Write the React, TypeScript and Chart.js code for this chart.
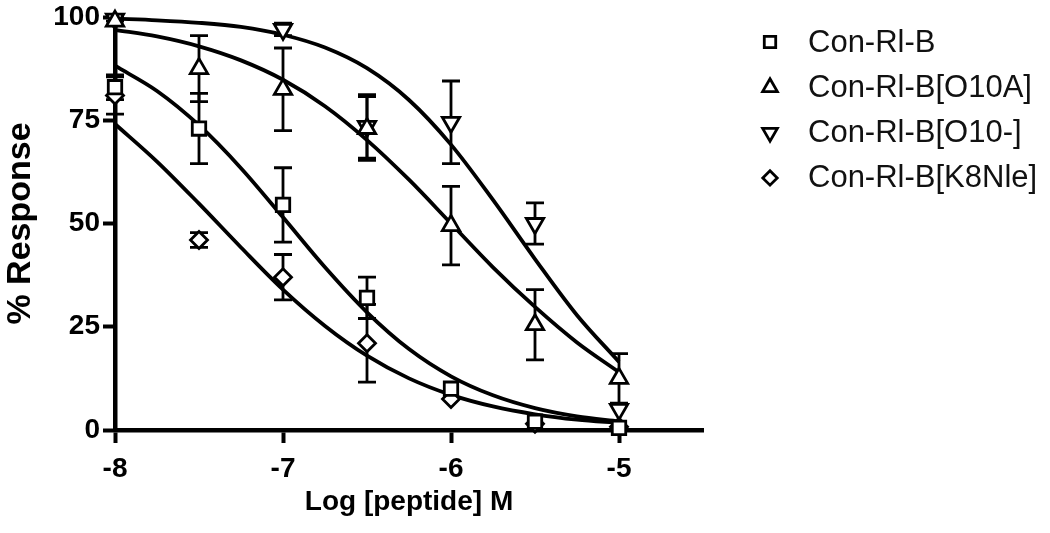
import React, { useEffect, useRef } from 'react';
import { Chart, registerables } from 'chart.js';
import { drawPoint } from 'chart.js/helpers';

Chart.register(...registerables);

// ---- data ----
const doses = [-8, -7.5, -7, -6.5, -6, -5.5, -5];

const seriesLabels = ['Con-Rl-B', 'Con-Rl-B[O10A]', 'Con-Rl-B[O10-]', 'Con-Rl-B[K8Nle]'];

const conRlB = [83, 73, 54.5, 32, 10, 2, 0.5];
const conRlBErr = [3, 8.5, 9, 5, 0, 0, 0];

const o10a = [99, 87.5, 82.5, 73, 49.5, 25.5, 12.5];
const o10aErr = [1, 8, 10, 7.7, 9.5, 8.5, 6];

const o10del = [99.5, null, 97, 73.5, 74.5, 50, 5];
const o10delErr = [0.5, 0, 1.5, 7.7, 10, 5, 0];

const k8nle = [81, 46, 37, 21, 7.5, 1.5, 0.8];
const k8nleErr = [4.5, 1.8, 5.5, 9.4, 0, 0, 0];

const curveX = [-8, -7.75, -7.5, -7.25, -7, -6.75, -6.5, -6.25, -6, -5.75, -5.5, -5.25, -5];
const conRlBFit = [88.2, 82.1, 73.8, 63.4, 51.5, 39.4, 28.5, 19.6, 13.0, 8.4, 5.3, 3.3, 2.1];
const o10aFit = [96.9, 95.3, 92.9, 89.5, 84.8, 78.4, 70.2, 60.6, 50.0, 39.4, 29.8, 21.2, 14.0];
const o10delFit = [99.6, 99.2, 98.6, 97.6, 95.7, 92.6, 87.6, 79.9, 69.1, 55.7, 41.4, 27.8, 16.5];
const k8nleFit = [74.1, 65.0, 54.8, 44.2, 34.0, 25.2, 18.0, 12.5, 8.5, 5.7, 3.8, 2.5, 1.7];

const xTicks = [-8, -7, -6, -5];
const yTicks = [0, 25, 50, 75, 100];

// ---- styles ----
const FONT = "'Liberation Sans', Arial, Helvetica, sans-serif";
const BLACK = '#000';

const pointStyles = [
  { style: 'rect', radius: 9.5, rotation: 0 },
  { style: 'triangle', radius: 10, rotation: 0 },
  { style: 'triangle', radius: 10, rotation: 180 },
  { style: 'rectRot', radius: 8.5, rotation: 0 },
];

const errorBarPlugin = {
  id: 'errorBars',
  beforeDatasetsDraw(chart: any) {
    const { ctx } = chart;
    const xs = chart.scales.x;
    const ys = chart.scales.y;
    ctx.save();
    ctx.strokeStyle = BLACK;
    ctx.lineWidth = 2.8;
    chart.data.datasets.forEach((ds: any) => {
      if (!ds.errors) return;
      ds.data.forEach((p: any, i: number) => {
        const e = ds.errors[i];
        if (p.y == null || !e) return;
        const px = xs.getPixelForValue(p.x);
        const top = ys.getPixelForValue(p.y + e);
        const bot = ys.getPixelForValue(p.y - e);
        const cap = 9;
        ctx.beginPath();
        ctx.moveTo(px, top);
        ctx.lineTo(px, bot);
        ctx.moveTo(px - cap, top);
        ctx.lineTo(px + cap, top);
        ctx.moveTo(px - cap, bot);
        ctx.lineTo(px + cap, bot);
        ctx.stroke();
      });
    });
    ctx.restore();
  },
};

const sideLegendPlugin = {
  id: 'sideLegend',
  afterDraw(chart: any) {
    const { ctx } = chart;
    const items = chart.data.datasets.filter((d: any) => d.errors);
    const markerX = chart.chartArea.right + 67;
    const textX = chart.chartArea.right + 105;
    const startY = 42;
    const step = 45.3;
    ctx.save();
    items.forEach((ds: any, i: number) => {
      const y = startY + i * step;
      ctx.strokeStyle = BLACK;
      ctx.fillStyle = '#fff';
      ctx.lineWidth = 2.8;
      drawPoint(ctx, { pointStyle: ds.pointStyle, rotation: ds.pointRotation, radius: ds.pointRadius * 0.85, borderWidth: 2.8 }, markerX, y);
      ctx.fillStyle = '#111';
      ctx.font = `31px ${FONT}`;
      ctx.textAlign = 'left';
      ctx.textBaseline = 'middle';
      ctx.fillText(ds.label, textX, y + 1);
    });
    ctx.restore();
  },
};

export default function App() {
  const canvasRef = useRef<HTMLCanvasElement | null>(null);

  useEffect(() => {
    if (!canvasRef.current) return;
    const means = [conRlB, o10a, o10del, k8nle];
    const errs = [conRlBErr, o10aErr, o10delErr, k8nleErr];
    const fits = [conRlBFit, o10aFit, o10delFit, k8nleFit];

    const pointSets = means.map((vals, s) => ({
      type: 'line' as const,
      label: seriesLabels[s],
      data: doses.map((x, i) => ({ x, y: vals[i] })),
      errors: errs[s],
      showLine: false,
      pointStyle: pointStyles[s].style,
      pointRotation: pointStyles[s].rotation,
      pointRadius: pointStyles[s].radius,
      pointBorderWidth: 2.8,
      pointBorderColor: BLACK,
      pointBackgroundColor: '#fff',
      borderColor: BLACK,
      backgroundColor: '#fff',
      clip: false,
    }));

    const curveSets = fits.map((vals, s) => ({
      type: 'line' as const,
      label: seriesLabels[s] + ' fit',
      data: curveX.map((x, i) => ({ x, y: vals[i] })),
      borderColor: BLACK,
      borderWidth: 3.8,
      pointRadius: 0,
      cubicInterpolationMode: 'monotone' as const,
      fill: false,
      clip: false,
    }));

    const tickFont = { family: FONT, size: 28, weight: 'bold' as const, lineHeight: 1 };

    const chart = new Chart(canvasRef.current, {
      type: 'line',
      data: { datasets: [...pointSets, ...curveSets] as any },
      plugins: [errorBarPlugin, sideLegendPlugin],
      options: {
        animation: false,
        responsive: true,
        maintainAspectRatio: false,
        layout: { padding: { top: 15, right: 347, left: 0, bottom: 0 } },
        plugins: {
          legend: { display: false },
          tooltip: { enabled: false },
        },
        scales: {
          x: {
            type: 'linear',
            min: -8,
            max: -4.5,
            afterBuildTicks: (s: any) => {
              s.ticks = xTicks.map((v) => ({ value: v }));
            },
            afterFit: (s: any) => {
              s.height = 103;
            },
            grid: {
              drawOnChartArea: false,
              drawTicks: true,
              tickLength: 13,
              tickWidth: 4,
              tickColor: BLACK,
            },
            border: { display: true, color: BLACK, width: 4.5 },
            ticks: {
              color: BLACK,
              font: tickFont,
              padding: 12,
              maxRotation: 0,
              autoSkip: false,
            },
            title: {
              display: true,
              text: 'Log [peptide] M',
              color: BLACK,
              font: { family: FONT, size: 28, weight: 'bold' },
              padding: { top: 0, bottom: 14 },
            },
          },
          y: {
            type: 'linear',
            min: 0,
            max: 100,
            afterBuildTicks: (s: any) => {
              s.ticks = yTicks.map((v) => ({ value: v }));
            },
            afterFit: (s: any) => {
              s.width = 115;
            },
            grid: {
              drawOnChartArea: false,
              drawTicks: true,
              tickLength: 12,
              tickWidth: 4,
              tickColor: BLACK,
            },
            border: { display: true, color: BLACK, width: 4.5 },
            ticks: {
              color: BLACK,
              font: tickFont,
              padding: 3,
            },
            title: {
              display: true,
              text: '% Response',
              color: BLACK,
              font: { family: FONT, size: 34, weight: 'bold' },
              padding: { top: 0, bottom: 0 },
            },
          },
        },
      } as any,
    });

    return () => chart.destroy();
  }, []);

  return (
    <div style={{ position: 'fixed', left: 0, top: 0, width: 1050, height: 533, background: '#fff' }}>
      <canvas ref={canvasRef} />
    </div>
  );
}
